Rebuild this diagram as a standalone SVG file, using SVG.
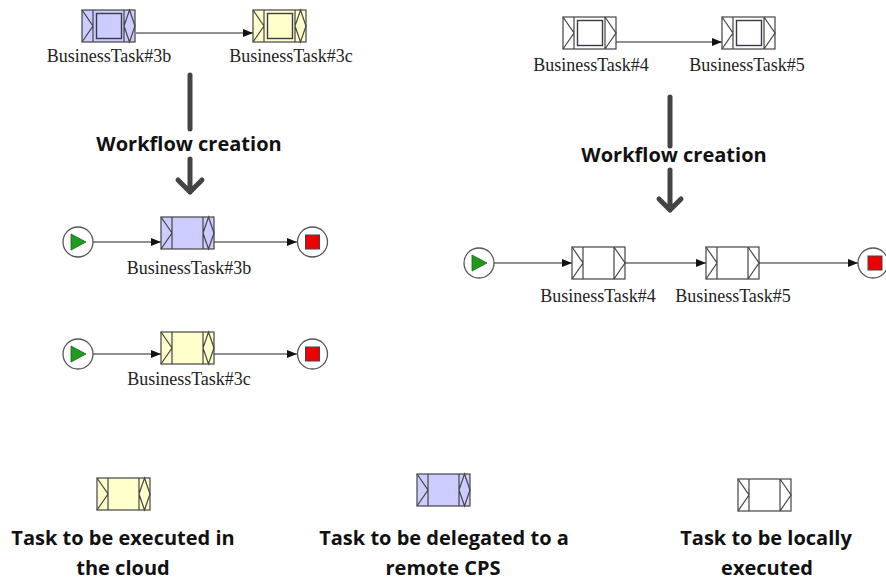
<svg xmlns="http://www.w3.org/2000/svg" xmlns:xlink="http://www.w3.org/1999/xlink" width="886" height="581" viewBox="0 0 886 581">
  <style>
    .frame { stroke: #444; stroke-width: 1.2; }
    .inner { stroke: #3a3a4a; stroke-width: 1.4; fill: none; }
    .lbl { font-family: "Liberation Serif", "Times New Roman", serif; font-size: 18px; fill: #222; text-anchor: middle; }
    .big { font-family: "Open Sans", "Liberation Sans", sans-serif; font-weight: 700; font-size: 20px; fill: #111; text-anchor: middle; }
    .conn { stroke: #222; stroke-width: 1.2; fill: none; marker-end: url(#tip); }
    .flow { stroke: #444; stroke-width: 5; fill: none; stroke-linecap: round; stroke-linejoin: round; }
    .blue { fill: #ccccff; }
    .yellow { fill: #ffffcc; }
    .white { fill: #ffffff; }
    .startc, .endc { fill: #fff; stroke: #555; stroke-width: 1.3; }
  </style>
  <defs>
    <marker id="tip" viewBox="0 0 10 8" refX="10" refY="4" markerWidth="10" markerHeight="8" markerUnits="userSpaceOnUse" orient="auto">
      <path d="M0,0 L10,4 L0,8 Z" fill="#111"/>
    </marker>
    <!-- task frame with chevrons on both sides (locally executed) -->
    <g id="task-local">
      <rect class="frame" x="0" y="0" width="53" height="32"/>
      <path class="frame" fill="none" d="M11,0 V32 M42,0 V32 M0,0 L11,16 L0,32 M42,0 L53,16 L42,32"/>
    </g>
    <!-- task frame with a chevron and a diamond (delegated / cloud) -->
    <g id="task-remote">
      <rect class="frame" x="0" y="0" width="53" height="32"/>
      <path class="frame" fill="none" d="M11,0 V32 M42,0 V32 M0,0 L11,16 L0,32 M47.5,0 L53,16 L47.5,32 L42,16 Z"/>
    </g>
    <rect id="inner-sq" class="inner" x="14.5" y="3.5" width="25" height="25"/>
  </defs>

  <!-- connectors -->
  <g id="connectors">
    <line class="conn" x1="136" y1="33" x2="253" y2="33"/>
    <line class="conn" x1="616" y1="42" x2="722" y2="42"/>
    <line class="conn" x1="93" y1="242" x2="161" y2="242"/>
    <line class="conn" x1="214" y1="242" x2="297" y2="242"/>
    <line class="conn" x1="93" y1="354" x2="161" y2="354"/>
    <line class="conn" x1="214" y1="354" x2="297" y2="354"/>
    <line class="conn" x1="494" y1="263" x2="572" y2="263"/>
    <line class="conn" x1="624" y1="263" x2="706" y2="263"/>
    <line class="conn" x1="758" y1="263" x2="858" y2="263"/>
    <!-- workflow creation arrows -->
    <path class="flow" d="M190,75 V129 M190,159 V192 M178,180 L190,192 L202,180"/>
    <path class="flow" d="M670,97 V146 M670,170 V210 M659,199 L670,210 L681,199"/>
  </g>
  <text class="big" x="189" y="151">Workflow creation</text>
  <text class="big" x="674" y="162">Workflow creation</text>

  <!-- top left: original tasks -->
  <g id="task-3b-top" transform="translate(82,10)">
    <use xlink:href="#task-remote" class="blue"/>
    <use xlink:href="#inner-sq"/>
  </g>
  <text class="lbl" x="109" y="62">BusinessTask#3b</text>
  <g id="task-3c-top" transform="translate(253,10)">
    <use xlink:href="#task-remote" class="yellow"/>
    <use xlink:href="#inner-sq"/>
  </g>
  <text class="lbl" x="291" y="62">BusinessTask#3c</text>

  <!-- top right: original tasks -->
  <g id="task-4-top" transform="translate(563,17)">
    <use xlink:href="#task-local" class="white"/>
    <use xlink:href="#inner-sq"/>
  </g>
  <text class="lbl" x="591" y="71">BusinessTask#4</text>
  <g id="task-5-top" transform="translate(722,17)">
    <use xlink:href="#task-local" class="white"/>
    <use xlink:href="#inner-sq"/>
  </g>
  <text class="lbl" x="747" y="71">BusinessTask#5</text>

  <!-- workflow 3b -->
  <g id="start-3b">
    <circle class="startc" cx="78" cy="242" r="15"/>
    <path d="M71,234 L86,242 L71,250 Z" fill="#1f9a1f" stroke="#156b15" stroke-width="0.8"/>
  </g>
  <g id="task-3b" transform="translate(161,217)">
    <use xlink:href="#task-remote" class="blue"/>
  </g>
  <text class="lbl" x="189" y="274">BusinessTask#3b</text>
  <g id="end-3b">
    <circle class="endc" cx="312.5" cy="242" r="15"/>
    <rect x="305.5" y="235" width="14" height="14" fill="#ee0000" stroke="#444" stroke-width="1"/>
  </g>

  <!-- workflow 3c -->
  <g id="start-3c">
    <circle class="startc" cx="78" cy="354" r="15"/>
    <path d="M71,346 L86,354 L71,362 Z" fill="#1f9a1f" stroke="#156b15" stroke-width="0.8"/>
  </g>
  <g id="task-3c" transform="translate(161,332)">
    <use xlink:href="#task-remote" class="yellow"/>
  </g>
  <text class="lbl" x="189" y="385">BusinessTask#3c</text>
  <g id="end-3c">
    <circle class="endc" cx="312.5" cy="354" r="15"/>
    <rect x="305.5" y="347" width="14" height="14" fill="#ee0000" stroke="#444" stroke-width="1"/>
  </g>

  <!-- workflow 4 / 5 -->
  <g id="start-45">
    <circle class="startc" cx="479" cy="263" r="15"/>
    <path d="M472,255 L487,263 L472,271 Z" fill="#1f9a1f" stroke="#156b15" stroke-width="0.8"/>
  </g>
  <g id="task-4" transform="translate(572,247)">
    <use xlink:href="#task-local" class="white"/>
  </g>
  <text class="lbl" x="598" y="302">BusinessTask#4</text>
  <g id="task-5" transform="translate(706,247)">
    <use xlink:href="#task-local" class="white"/>
  </g>
  <text class="lbl" x="733" y="302">BusinessTask#5</text>
  <g id="end-45">
    <circle class="endc" cx="873" cy="263" r="15"/>
    <rect x="868" y="256" width="14" height="14" fill="#ee0000" stroke="#444" stroke-width="1"/>
  </g>

  <!-- legend -->
  <g id="legend-cloud">
    <use xlink:href="#task-remote" class="yellow" transform="translate(97,478)"/>
    <text class="big" x="123" y="545">Task to be executed in</text>
    <text class="big" x="123" y="575">the cloud</text>
  </g>
  <g id="legend-remote">
    <use xlink:href="#task-remote" class="blue" transform="translate(417,474)"/>
    <text class="big" x="444" y="545">Task to be delegated to a</text>
    <text class="big" x="443" y="575">remote CPS</text>
  </g>
  <g id="legend-local">
    <use xlink:href="#task-local" class="white" transform="translate(738,479)"/>
    <text class="big" x="766" y="545">Task to be locally</text>
    <text class="big" x="767" y="575">executed</text>
  </g>
</svg>
